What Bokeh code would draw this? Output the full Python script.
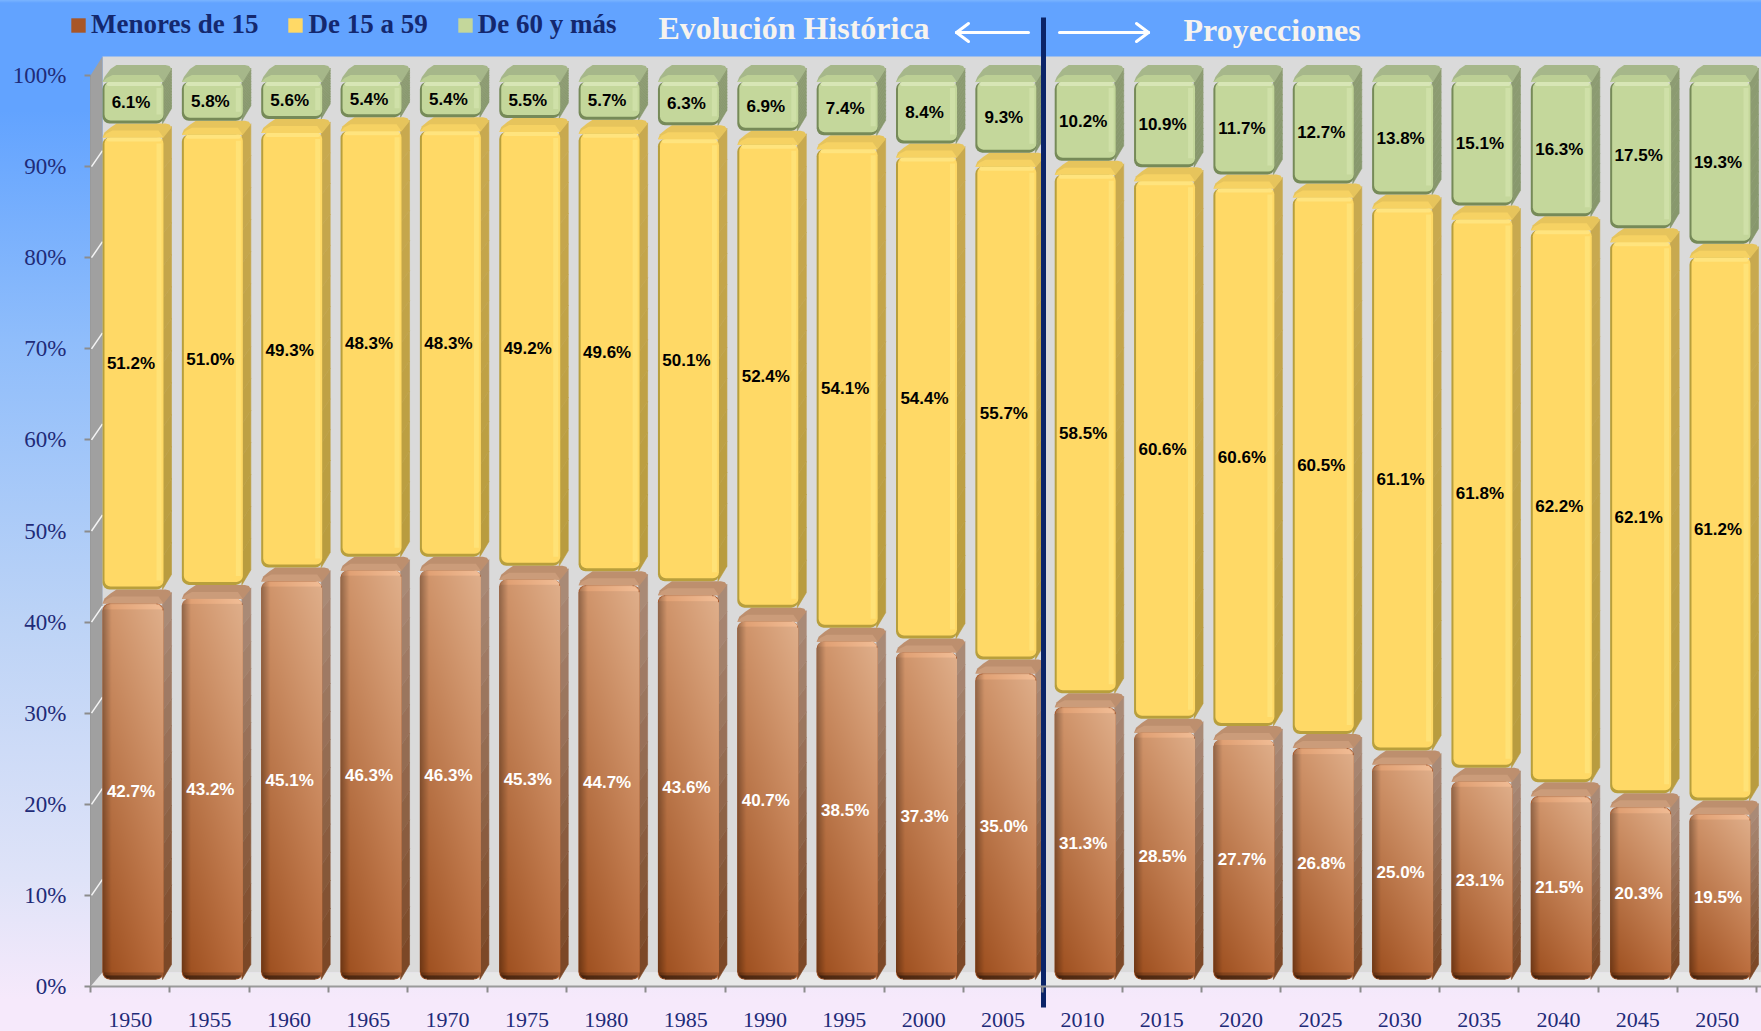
import numpy as np
from bokeh.embed import file_html
from bokeh.resources import INLINE
from bokeh.plotting import figure
from bokeh.models import (Label, Legend, LegendItem, FixedTicker,
                          PrintfTickFormatter, Range1d, LinearAxis, ColumnDataSource)
from bokeh.core.properties import value

years = [1950,1955,1960,1965,1970,1975,1980,1985,1990,1995,2000,2005,2010,2015,2020,2025,2030,2035,2040,2045,2050]
menores = [42.7,43.2,45.1,46.3,46.3,45.3,44.7,43.6,40.7,38.5,37.3,35.0,31.3,28.5,27.7,26.8,25.0,23.1,21.5,20.3,19.5]
adultos = [51.2,51.0,49.3,48.3,48.3,49.2,49.6,50.1,52.4,54.1,54.4,55.7,58.5,60.6,60.6,60.5,61.1,61.8,62.2,62.1,61.2]
mayores = [6.1,5.8,5.6,5.4,5.4,5.5,5.7,6.3,6.9,7.4,8.4,9.3,10.2,10.9,11.7,12.7,13.8,15.1,16.3,17.5,19.3]
series_names = ["Menores de 15", "De 15 a 59", "De 60 y más"]

W, H = 1761, 1031
FL, FB = 90, 986             # axis origin in page pixels
PX, PY = 79.35, 9.11         # pixels per data unit
NAVY = "#1f2b78"

def xp(px): return (px - FL) / PX
def yp(py): return (FB - py) / PY

p = figure(width=W, height=H, output_backend="svg", toolbar_location=None,
           x_range=Range1d(xp(0), xp(W)), y_range=Range1d(yp(H), yp(0)),
           x_axis_type=None, y_axis_type=None,
           min_border_left=0, min_border_right=0, min_border_top=0, min_border_bottom=0,
           border_fill_color=None, background_fill_color=None, outline_line_color=None,
           margin=0)
p.styles = {"background": "linear-gradient(to bottom, #7ab4ff 0px, #62a3ff 3px, #62a3ff 110px, "
                          "#8fbdfb 340px, #bcd3f6 620px, #dfe3f8 880px, #f6e9fb 1000px)"}
p.grid.visible = False

# chart walls
p.patches(xs=[[xp(102), xp(W), xp(W), xp(102)]], ys=[[yp(56), yp(56), yp(972), yp(972)]],
          fill_color="#dadada", line_color=None)
p.patches(xs=[[xp(102), xp(W), xp(W), xp(90)]], ys=[[yp(972), yp(972), yp(986), yp(986)]],
          fill_color="#e8e8e8", line_color=None)
p.patches(xs=[[xp(90), xp(102), xp(102), xp(90)]], ys=[[yp(986), yp(972), yp(56), yp(75)]],
          fill_color="#a0a0a0", line_color=None)
p.multi_line(xs=[[xp(91), xp(102)] for v in range(10, 100, 10)],
             ys=[[v, v + 16 / PY] for v in range(10, 100, 10)],
             line_color="#f4f4f4", line_width=1.5)

# geometry of a 3-D column
n = len(years)
x0 = 12 / PX
fw = 61 / PX
sd = 8 / PX
def B(v):
    return (8.5 + 9.1 * np.asarray(v, dtype=float)) / PY

low_m = np.zeros(n); top_m = np.array(menores)
low_a = top_m.copy(); top_a = low_a + np.array(adultos)
low_o = top_a.copy(); top_o = np.full(n, 100.0)
x_mid = np.arange(n) + x0 + fw / 2

def bottoms(low):
    return np.where(low > 0, B(low), 7 / PY)

def fronts(top):
    return B(top) - 14 / PY

def col(h):
    return np.array([int(h[i:i + 2], 16) for i in (1, 3, 5)], dtype=float)

def hexc(c):
    return "#%02x%02x%02x" % tuple(int(round(v)) for v in c)

def faces(low, top, side_low, side_high, top_c, mid_c, rise=14):
    b = bottoms(low); t = fronts(top)
    L = np.arange(n) + x0; R = L + fw
    N = 14
    sx, sy, sc = [], [], []
    c0, c1 = col(side_low), col(side_high)
    for r, tt, bb in zip(R, t, b):
        for k in range(N):
            u0, u1 = k / N, (k + 1) / N
            yl0 = bb + (tt - bb) * u0; yl1 = bb + (tt - bb) * u1
            br, tr = bb + 15 / PY, tt + (rise - 3) / PY
            yr0 = br + (tr - br) * u0; yr1 = br + (tr - br) * u1
            sx.append([r - 1 / PX, r + sd, r + sd, r - 1 / PX]); sy.append([yl0, yr0, yr1, yl1])
            sc.append(hexc(c0 + (c1 - c0) * (u0 + u1) / 2))
    p.patches(xs=sx, ys=sy, fill_color=sc, line_color=sc, line_width=0.6)
    tx = [[l, l + 2 / PX, l + 8 / PX, l + 14 / PX, r + 2 / PX, r + 6 / PX, r + sd, r]
          for l, r in zip(L, R)]
    ty = [[tt, tt + 5 / PY, tt + (rise - 4) / PY, tt + rise / PY, tt + rise / PY,
           tt + (rise - 1) / PY, tt + (rise - 4) / PY, tt] for tt in t]
    p.patches(xs=tx, ys=ty, fill_color=top_c, line_color=None)
    mx = [[l, l + 4 / PX, l + 10 / PX, r - 5 / PX, r] for l, r in zip(L, R)]
    my = [[tt, tt + 4 / PY, tt + 7 / PY, tt + 7 / PY, tt] for tt in t]
    p.patches(xs=mx, ys=my, fill_color=mid_c, line_color=None)
    return L, R, b, t

def edges(b, t, edge_c, main_c, strip_c, high_c):
    outer = p.vbar(x=x_mid, bottom=b, top=t, width=fw, fill_color=edge_c, line_color=None, border_radius=7)
    main = p.vbar(x=x_mid + 1 / PX, bottom=b + 3 / PY, top=t, width=fw - 2 / PX,
                  fill_color=main_c, line_color=None, border_radius=6)
    p.quad(left=x_mid + fw / 2 - 7 / PX, right=x_mid + fw / 2 - 2 / PX, bottom=b + 9 / PY, top=t - 6 / PY,
           fill_color=strip_c, line_color=None)
    p.vbar(x=x_mid + 1 / PX, bottom=t - 4 / PY, top=t, width=fw - 6 / PX,
           fill_color=high_c, line_color=None, border_radius=2)
    return main

# brown
L, R, b, t = faces(low_m, top_m, "#7a4624", "#ab8c79", "#bd8f6e", "#cb9c7a")
brown_bar = p.vbar(x=x_mid, bottom=b, top=t, width=fw, fill_color="#a85627", line_color=None, border_radius=7)

BL, BR, TL, TR = col("#9a4c1c"), col("#bb6c3c"), col("#cf9268"), col("#e0b08c")
imgs, ix, iy, idw, idh = [], [], [], [], []
for i in range(n):
    hpx = int(round((t[i] - b[i]) * PY)); wpx = 61
    vv = np.linspace(0, 1, hpx)[:, None, None]
    uu = np.linspace(0, 1, wpx)[None, :, None]
    rgb = (1 - vv) * ((1 - uu) * BL + uu * BR) + vv * ((1 - uu) * TL + uu * TR)
    rgb = rgb * (0.72 + 0.28 * np.clip(np.linspace(0, 1, wpx) * 7, 0, 1))[None, :, None]
    rgb[:4] *= 0.5
    rgb[4:7] *= 0.82
    rgb[-6:-1] = np.clip(rgb[-6:-1] * 1.08, 0, 255)
    alpha = np.full((hpx, wpx), 255, dtype=np.uint8)
    rad = 7
    for yy in range(rad):
        for xx in range(rad):
            if (rad - xx) ** 2 + (rad - yy) ** 2 > rad ** 2:
                alpha[yy, xx] = alpha[yy, wpx - 1 - xx] = 0
                alpha[hpx - 1 - yy, xx] = alpha[hpx - 1 - yy, wpx - 1 - xx] = 0
    rgba = np.dstack([rgb.astype(np.uint8), alpha])
    imgs.append(rgba.view(dtype=np.uint32).reshape(hpx, wpx))
    ix.append(L[i]); iy.append(b[i]); idw.append(fw); idh.append(t[i] - b[i])
p.image_rgba(image=imgs, x=ix, y=iy, dw=idw, dh=idh)

# yellow
L, R, b, t = faces(low_a, top_a, "#b89b3e", "#c9aa50", "#e6c45c", "#f6d263")
yellow_bar = edges(b, t, "#b89f3c", "#ffd966", "#ffe277", "#ffe47e")

# green
L, R, b, t = faces(low_o, top_o, "#87976c", "#8d9c72", "#a6b78a", "#bccf95", rise=17)
green_bar = edges(b, t, "#768a58", "#c4d79b", "#cfe0a8", "#d8e6b6")

# data labels
def labels(vals, low, top, color):
    ym = (bottoms(low) + fronts(top)) / 2
    src = ColumnDataSource(dict(x=x_mid - 2 / PX, y=ym, t=["%.1f%%" % v for v in vals]))
    p.text(x="x", y="y", text="t", source=src, text_align="center", text_baseline="middle",
           text_font=value("Liberation Sans"), text_font_style="bold", text_font_size="17px",
           text_color=color)

labels(menores, low_m, top_m, "#ffffff")
labels(adultos, low_a, top_a, "#000000")
labels(mayores, low_o, top_o, "#000000")

# axes (fixed inside the full-canvas frame)
yax = LinearAxis(ticker=FixedTicker(ticks=list(range(0, 101, 10))),
                 formatter=PrintfTickFormatter(format="%d%%"), bounds=(0, 100), fixed_location=0)
yax.axis_line_color = "#9a9a9a"; yax.major_tick_line_color = "#8c8c8c"
yax.major_tick_line_width = 2; yax.major_tick_out = 6; yax.major_tick_in = 0
yax.minor_tick_line_color = None
yax.major_label_standoff = 18
yax.major_label_text_font = "Liberation Serif"; yax.major_label_text_font_size = "23px"
yax.major_label_text_color = NAVY
p.add_layout(yax, "left")

centers = [i + 0.5 for i in range(n)]
xax = LinearAxis(ticker=FixedTicker(ticks=centers, minor_ticks=list(range(n + 1))),
                 major_label_overrides={c: str(y) for c, y in zip(centers, years)},
                 fixed_location=0, bounds=(0, xp(W)))
xax.axis_line_color = "#9a9a9a"; xax.axis_line_width = 2
xax.major_tick_line_color = None
xax.minor_tick_line_color = "#8c8c8c"; xax.minor_tick_line_width = 2
xax.minor_tick_out = 6; xax.minor_tick_in = 0
xax.major_label_standoff = 20
xax.major_label_text_font = "Liberation Serif"; xax.major_label_text_font_size = "22px"
xax.major_label_text_color = NAVY
p.add_layout(xax, "below")

# divider and header
p.segment(x0=[xp(1043)], x1=[xp(1043)], y0=[yp(17)], y1=[yp(1007)], line_color="#0b2468", line_width=5)
arrow_x0 = [1028, 956, 956, 1059, 1148, 1148]
arrow_x1 = [956, 968, 968, 1148, 1136, 1136]
arrow_y0 = [32, 32, 32, 32, 32, 32]
arrow_y1 = [32, 23, 41, 32, 23, 41]
p.segment(x0=[xp(v) for v in arrow_x0], x1=[xp(v) for v in arrow_x1],
          y0=[yp(v) for v in arrow_y0], y1=[yp(v) for v in arrow_y1],
          line_color="#ffffff", line_width=3, line_cap="round")
for txt, px, py in [("Evolución Histórica", 658, 27), ("Proyecciones", 1183, 29)]:
    p.add_layout(Label(x=xp(px), y=yp(py), text=txt, text_font="Liberation Serif", text_font_style="bold",
                       text_font_size="32px", text_color="#f6f3ee", text_baseline="middle", text_align="left"))

legend = Legend(items=[LegendItem(label=series_names[0], renderers=[brown_bar]),
                       LegendItem(label=series_names[1], renderers=[yellow_bar]),
                       LegendItem(label=series_names[2], renderers=[green_bar])],
                orientation="horizontal", location=(69, H - 40),
                background_fill_alpha=0, border_line_color=None, padding=0, margin=0,
                spacing=28, label_standoff=4, glyph_width=18, glyph_height=18,
                label_text_font="Liberation Serif", label_text_font_style="bold",
                label_text_font_size="27px", label_text_color="#14286e")
p.add_layout(legend, "center")

open("out.html", "w").write(file_html(p, INLINE))
